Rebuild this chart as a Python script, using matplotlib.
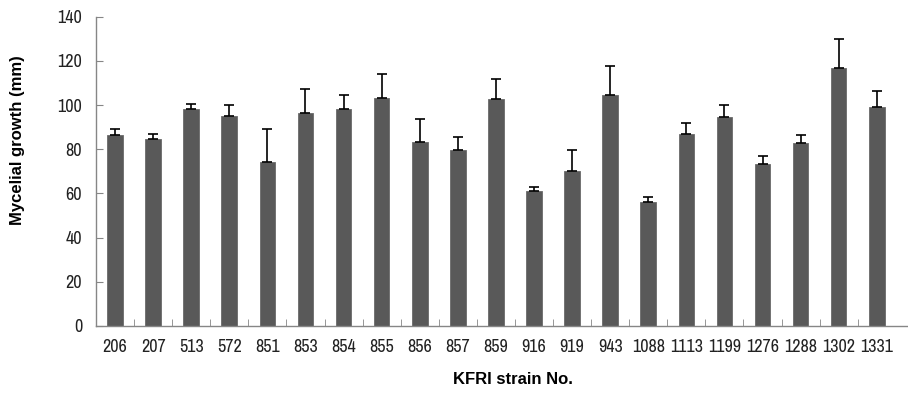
import matplotlib.pyplot as plt
from matplotlib import font_manager

strains = ["206", "207", "513", "572", "851", "853", "854", "855", "856", "857", "859",
           "916", "919", "943", "1088", "1113", "1199", "1276", "1288", "1302", "1331"]
growth = [86.3, 84.5, 98.3, 95.2, 74.3, 96.4, 98.3, 103.3, 83.3, 79.5, 102.7,
          61.1, 70.0, 104.7, 56.1, 87.0, 94.6, 73.2, 82.7, 116.6, 99.0]
upper = [89.3, 86.7, 100.6, 100.0, 89.3, 107.5, 104.4, 113.9, 93.8, 85.7, 111.9,
         62.9, 79.8, 117.6, 58.4, 91.9, 100.0, 76.8, 86.3, 129.7, 106.5]
err = [u - g for u, g in zip(upper, growth)]

# narrow face for tick labels, like the original Arial Narrow
names = {f.name for f in font_manager.fontManager.ttflist}
tick_font = "Liberation Sans"
for cand in ("Liberation Sans Narrow", "Archivo Narrow", "PT Sans Narrow"):
    if cand in names:
        tick_font = cand
        break

fig = plt.figure(figsize=(9.08, 4.07), dpi=100)
ax = fig.add_axes([96 / 908, 81 / 407, 812 / 908, 309.3 / 407])

x = list(range(len(strains)))
ax.bar(x, growth, width=0.41, color="#595959", edgecolor="#6a6a6a", linewidth=0.6, zorder=2)
ax.errorbar(x, growth, yerr=[[0] * len(err), err], fmt="none", ecolor="black",
            elinewidth=1.2, capsize=3.6, capthick=1.2, zorder=3)

ax.set_xlim(-0.5, 20.82)
ax.set_ylim(0, 140)
ax.set_yticks(range(0, 141, 20))
ax.set_xticks(x)
ax.set_xticklabels(strains)
ax.set_xticks([i + 0.5 for i in range(len(strains) - 1)], minor=True)
ax.tick_params(axis="x", which="major", length=0, pad=9)
ax.tick_params(axis="x", which="minor", direction="in", length=5, color="#868686")
ax.tick_params(axis="y", direction="in", length=5, color="#868686", pad=10)
for lab in ax.get_xticklabels() + ax.get_yticklabels():
    lab.set_family(tick_font)
    lab.set_fontsize(13)
    lab.set_color("#222222")

for side in ("top", "right"):
    ax.spines[side].set_visible(False)
for side in ("left", "bottom"):
    ax.spines[side].set_color("#868686")
    ax.spines[side].set_linewidth(1.0)

fig.text(18 / 908, 1 - 140 / 407, "Mycelial growth (mm)", rotation=90, ha="center", va="center",
         fontsize=12, fontweight="bold", family="Liberation Sans")
fig.text(513 / 908, 1 - 380 / 407, "KFRI strain No.", ha="center", va="center",
         fontsize=12, fontweight="bold", family="Liberation Sans")

fig.savefig("out.png", dpi=100)
plt.close(fig)
